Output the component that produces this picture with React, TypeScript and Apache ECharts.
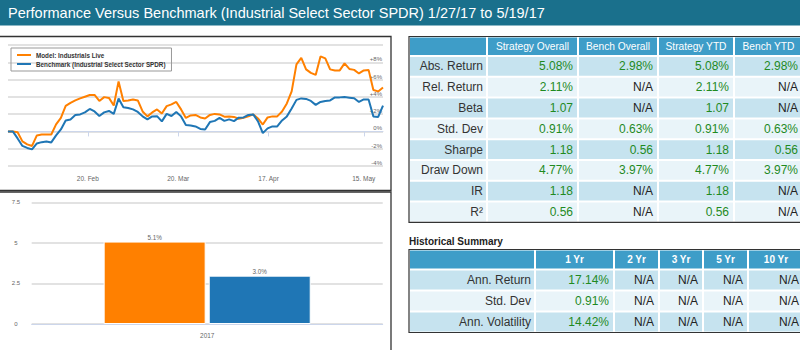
import React, { useEffect, useRef } from "react";
import * as echarts from "echarts";

const titleText = "Performance Versus Benchmark (Industrial Select Sector SPDR) 1/27/17 to 5/19/17";

const tradingDays = [
  "2017-01-27", "2017-01-30", "2017-01-31",
  "2017-02-01", "2017-02-02", "2017-02-03", "2017-02-06", "2017-02-07", "2017-02-08", "2017-02-09", "2017-02-10",
  "2017-02-13", "2017-02-14", "2017-02-15", "2017-02-16", "2017-02-17", "2017-02-21", "2017-02-22", "2017-02-23",
  "2017-02-24", "2017-02-27", "2017-02-28",
  "2017-03-01", "2017-03-02", "2017-03-03", "2017-03-06", "2017-03-07", "2017-03-08", "2017-03-09", "2017-03-10",
  "2017-03-13", "2017-03-14", "2017-03-15", "2017-03-16", "2017-03-17", "2017-03-20", "2017-03-21", "2017-03-22",
  "2017-03-23", "2017-03-24", "2017-03-27", "2017-03-28", "2017-03-29", "2017-03-30", "2017-03-31",
  "2017-04-03", "2017-04-04", "2017-04-05", "2017-04-06", "2017-04-07", "2017-04-10", "2017-04-11", "2017-04-12",
  "2017-04-13", "2017-04-17", "2017-04-18", "2017-04-19", "2017-04-20", "2017-04-21", "2017-04-24", "2017-04-25",
  "2017-04-26", "2017-04-27", "2017-04-28",
  "2017-05-01", "2017-05-02", "2017-05-03", "2017-05-04", "2017-05-05", "2017-05-08", "2017-05-09", "2017-05-10",
  "2017-05-11", "2017-05-12", "2017-05-15", "2017-05-16", "2017-05-17", "2017-05-18", "2017-05-19",
];

const strategySeries = [
  0, 0, -0.1, -1.15, -1.5, -1.68, -0.46, -0.35, -0.35, -0.35,
  0.81, 1.56, 2.95, 3.3, 3.59, 3.82, 4.02, 4.22, 4.22, 3.53,
  3.97, 3.88, 3.0, 5.79, 3.53, 3.59, 3.7, 3.59, 2.31, 1.74,
  2.2, 2.55, 2.08, 2.93, 3.13, 3.41, 2.55, 1.56, 1.85, 1.91,
  1.62, 1.5, 1.91, 2.03, 1.97, 1.71, 1.74, 1.68, 1.47, 1.59,
  1.74, 1.97, 1.5, 0.8, 1.62, 1.74, 1.74, 2.31, 3.24, 4.63,
  7.75, 8.51, 7.18, 6.77, 6.54, 8.68, 8.45, 7.18, 7.06, 7.06,
  7.87, 7.23, 7.12, 6.71, 7.06, 7.12, 4.8, 4.63, 5.08,
];

const benchmarkSeries = [
  0, 0, -0.81, -1.68, -1.91, -2.08, -1.39, -1.24, -1.16, -1.27,
  -0.46, 0.23, 1.27, 1.39, 1.89, 1.97, 2.2, 2.6, 2.31, 1.79,
  2.2, 2.37, 2.03, 3.8, 2.81, 2.72, 2.55, 2.26, 1.74, 1.39,
  1.74, 1.77, 1.16, 2.03, 1.79, 2.26, 1.74, 0.75, 0.69, 0.58,
  0.29, 0.23, 1.08, 1.22, 1.56, 1.22, 1.39, 1.19, 1.59, 1.62,
  1.91, 1.97, 1.16, -0.2, 0.35, 0.58, 0.58, 1.27, 1.74, 2.66,
  3.65, 3.82, 3.76, 3.53, 3.07, 3.41, 3.53, 3.59, 3.94, 3.94,
  3.97, 3.91, 3.84, 3.41, 3.7, 3.7, 1.74, 1.68, 2.98,
];

const xTickLabels = ["20. Feb", "20. Mar", "17. Apr", "15. May"];
const xTickPositions = [16.6, 35.4, 54.2, 74];

const barCategories = ["2017"];
const barStrategy = [5.08];
const barBench = [2.98];

const seriesNames = ["Model: Industrials Live", "Benchmark (Industrial Select Sector SPDR)"];

const statsHeaders = ["", "Strategy Overall", "Bench Overall", "Strategy YTD", "Bench YTD"];
const statsRowLabels = ["Abs. Return", "Rel. Return", "Beta", "Std. Dev", "Sharpe", "Draw Down", "IR", "R²"];
const strategyOverall = ["5.08%", "2.11%", "1.07", "0.91%", "1.18", "4.77%", "1.18", "0.56"];
const benchOverall = ["2.98%", "N/A", "N/A", "0.63%", "0.56", "3.97%", "N/A", "N/A"];
const strategyYTD = ["5.08%", "2.11%", "1.07", "0.91%", "1.18", "4.77%", "1.18", "0.56"];
const benchYTD = ["2.98%", "N/A", "N/A", "0.63%", "0.56", "3.97%", "N/A", "N/A"];

const histTitle = "Historical Summary";
const histHeaders = ["", "1 Yr", "2 Yr", "3 Yr", "5 Yr", "10 Yr"];
const histRowLabels = ["Ann. Return", "Std. Dev", "Ann. Volatility"];
const hist1Yr = ["17.14%", "0.91%", "14.42%"];
const hist2Yr = ["N/A", "N/A", "N/A"];
const hist3Yr = ["N/A", "N/A", "N/A"];
const hist5Yr = ["N/A", "N/A", "N/A"];
const hist10Yr = ["N/A", "N/A", "N/A"];

const FONT = "'Liberation Sans', Arial, Helvetica, sans-serif";
const ORANGE = "#ff8000";
const BLUE = "#1f76b5";

function txt(x: number, y: number, text: string, font: string, fill: string, align: string, z = 10) {
  return {
    type: "text",
    x,
    y,
    z,
    silent: true,
    style: {
      text,
      font,
      fill,
      textAlign: align,
      textVerticalAlign: "middle",
      align,
      verticalAlign: "middle",
    },
  };
}

function buildTable(
  edges: number[],
  top: number,
  headerH: number,
  rowH: number,
  headers: string[],
  rowLabels: string[],
  columns: string[][],
  headerFont: string
) {
  const els: any[] = [];
  const left = edges[0];
  const right = edges[edges.length - 1];
  const height = headerH + rowH * rowLabels.length;
  els.push({ type: "rect", z: 5, shape: { x: left, y: top, width: right - left, height }, style: { fill: "#fff" } });
  for (let c = 0; c < edges.length - 1; c++) {
    const x0 = edges[c];
    const x1 = edges[c + 1];
    els.push({
      type: "rect",
      z: 6,
      shape: { x: x0 + 1, y: top + 1, width: x1 - x0 - 2, height: headerH - 2 },
      style: { fill: "#3e9dc8" },
    });
    if (headers[c]) {
      els.push(txt((x0 + x1) / 2, top + headerH / 2, headers[c], headerFont, "#fff", "center"));
    }
  }
  rowLabels.forEach((lab, r) => {
    const y0 = top + headerH + r * rowH;
    const bg = r % 2 === 0 ? "#c6e3ef" : "#e9f4f9";
    for (let c = 0; c < edges.length - 1; c++) {
      const x0 = edges[c];
      const x1 = edges[c + 1];
      els.push({
        type: "rect",
        z: 6,
        shape: { x: x0 + 1, y: y0 + 1, width: x1 - x0 - 2, height: rowH - 2 },
        style: { fill: bg },
      });
      const cy = y0 + rowH / 2;
      if (c === 0) {
        els.push(txt(x1 - 4, cy, lab, `12px ${FONT}`, "#333", "right"));
      } else {
        const v = columns[c - 1][r];
        els.push(txt(x1 - 5, cy, v, `12px ${FONT}`, v === "N/A" ? "#222" : "#1f8a1f", "right"));
      }
    }
  });
  els.push({
    type: "rect",
    z: 7,
    shape: { x: left, y: top, width: right - left, height },
    style: { fill: "none", stroke: "#333", lineWidth: 1.2 },
  });
  return els;
}

export default function App() {
  const ref = useRef<HTMLDivElement>(null);

  useEffect(() => {
    if (!ref.current) return;
    const chart = echarts.init(ref.current, undefined, { renderer: "svg" });

    const graphics: any[] = [];
    graphics.push({ type: "rect", z: 1, shape: { x: 0, y: 0, width: 800, height: 25.5 }, style: { fill: "#1a708c" } });
    graphics.push(txt(8, 13, titleText, `14.5px ${FONT}`, "#fff", "left"));
    graphics.push({
      type: "rect",
      z: 1,
      silent: true,
      shape: { x: -1, y: 36.5, width: 392, height: 154 },
      style: { fill: "none", stroke: "#333", lineWidth: 1.3 },
    });
    graphics.push({
      type: "rect",
      z: 1,
      silent: true,
      shape: { x: -1, y: 192, width: 392, height: 170 },
      style: { fill: "none", stroke: "#333", lineWidth: 1.3 },
    });
    graphics.push(
      ...buildTable(
        [409, 487, 578, 658, 734, 803],
        36.5,
        19.5,
        20.8,
        statsHeaders,
        statsRowLabels,
        [strategyOverall, benchOverall, strategyYTD, benchYTD],
        `10.2px ${FONT}`
      )
    );
    graphics.push(txt(409, 241, histTitle, `bold 10px ${FONT}`, "#222", "left"));
    graphics.push(
      ...buildTable(
        [409, 535, 614, 659, 703, 748, 804],
        249.5,
        20,
        21,
        histHeaders,
        histRowLabels,
        [hist1Yr, hist2Yr, hist3Yr, hist5Yr, hist10Yr],
        `bold 10px ${FONT}`
      )
    );

    const option: any = {
      animation: false,
      textStyle: { fontFamily: FONT },
      graphic: { elements: graphics },
      legend: {
        data: seriesNames,
        selectedMode: false,
        orient: "vertical",
        left: 11,
        top: 48,
        icon: "rect",
        itemWidth: 14,
        itemHeight: 2,
        itemGap: 1,
        padding: [3, 6, 3, 6],
        borderColor: "#999",
        borderWidth: 1,
        textStyle: { fontSize: 6.3, fontWeight: "bold", color: "#333", lineHeight: 8 },
      },
      grid: [
        { left: 8, right: 417, top: 45, bottom: 184 },
        { left: 31.7, right: 417.3, top: 202.3, bottom: 26 },
      ],
      xAxis: [
        {
          type: "value",
          gridIndex: 0,
          min: 0,
          max: tradingDays.length - 1,
          splitLine: { show: false },
          axisLine: { lineStyle: { color: "#ccd6eb" } },
          axisTick: { show: true, customValues: xTickPositions, length: 5, lineStyle: { color: "#ccd6eb" } },
          axisLabel: {
            customValues: xTickPositions,
            fontSize: 6.5,
            color: "#666",
            margin: 9,
            formatter: (v: number) => {
              const i = xTickPositions.findIndex((p) => Math.abs(p - v) < 0.01);
              return i >= 0 ? xTickLabels[i] : "";
            },
          },
        },
        {
          type: "category",
          gridIndex: 1,
          data: barCategories,
          axisLine: { lineStyle: { color: "#ccd6eb" } },
          axisTick: { show: false },
          axisLabel: { fontSize: 6.4, color: "#666", margin: 8 },
        },
      ],
      yAxis: [
        {
          type: "value",
          gridIndex: 0,
          position: "right",
          min: -4,
          max: 10,
          interval: 2,
          axisLine: { show: false },
          axisTick: { show: false },
          splitLine: { lineStyle: { color: "#d8d8d8", width: 1.5 } },
          axisLabel: {
            inside: true,
            verticalAlign: "bottom",
            margin: 1,
            fontSize: 6,
            color: "#666",
            formatter: (v: number) => (v === 10 ? "" : v > 0 ? `+${v}%` : `${v}%`),
          },
        },
        {
          type: "value",
          gridIndex: 1,
          min: 0,
          max: 7.5,
          interval: 2.5,
          axisLine: { show: false },
          axisTick: { show: false },
          splitLine: { lineStyle: { color: "#d8d8d8", width: 1.5 } },
          axisLabel: { align: "center", margin: 15.7, fontSize: 6, color: "#666", formatter: (v: number) => String(v) },
        },
      ],
      series: [
        {
          name: seriesNames[0],
          type: "line",
          xAxisIndex: 0,
          yAxisIndex: 0,
          showSymbol: false,
          symbol: "none",
          data: strategySeries.map((v, i) => [i, v]),
          lineStyle: { color: ORANGE, width: 2 },
          itemStyle: { color: ORANGE },
        },
        {
          name: seriesNames[1],
          type: "line",
          xAxisIndex: 0,
          yAxisIndex: 0,
          showSymbol: false,
          symbol: "none",
          data: benchmarkSeries.map((v, i) => [i, v]),
          lineStyle: { color: BLUE, width: 2 },
          itemStyle: { color: BLUE },
        },
        {
          name: "Strategy",
          type: "bar",
          xAxisIndex: 1,
          yAxisIndex: 1,
          data: barStrategy,
          barWidth: 102,
          barGap: "3%",
          itemStyle: { color: ORANGE, borderColor: "#fff", borderWidth: 1 },
          label: {
            show: true,
            position: "top",
            distance: 1,
            fontSize: 6.3,
            color: "#666",
            formatter: (p: any) => `${Number(p.value).toFixed(1)}%`,
          },
        },
        {
          name: "Bench",
          type: "bar",
          xAxisIndex: 1,
          yAxisIndex: 1,
          data: barBench,
          barWidth: 102,
          barGap: "3%",
          itemStyle: { color: BLUE, borderColor: "#fff", borderWidth: 1 },
          label: {
            show: true,
            position: "top",
            distance: 1,
            fontSize: 6.3,
            color: "#666",
            formatter: (p: any) => `${Number(p.value).toFixed(1)}%`,
          },
        },
      ],
    };

    chart.setOption(option);
    return () => chart.dispose();
  }, []);

  return (
    <div
      ref={ref}
      style={{ position: "fixed", left: 0, top: 0, width: 800, height: 350, background: "#fff" }}
    />
  );
}
